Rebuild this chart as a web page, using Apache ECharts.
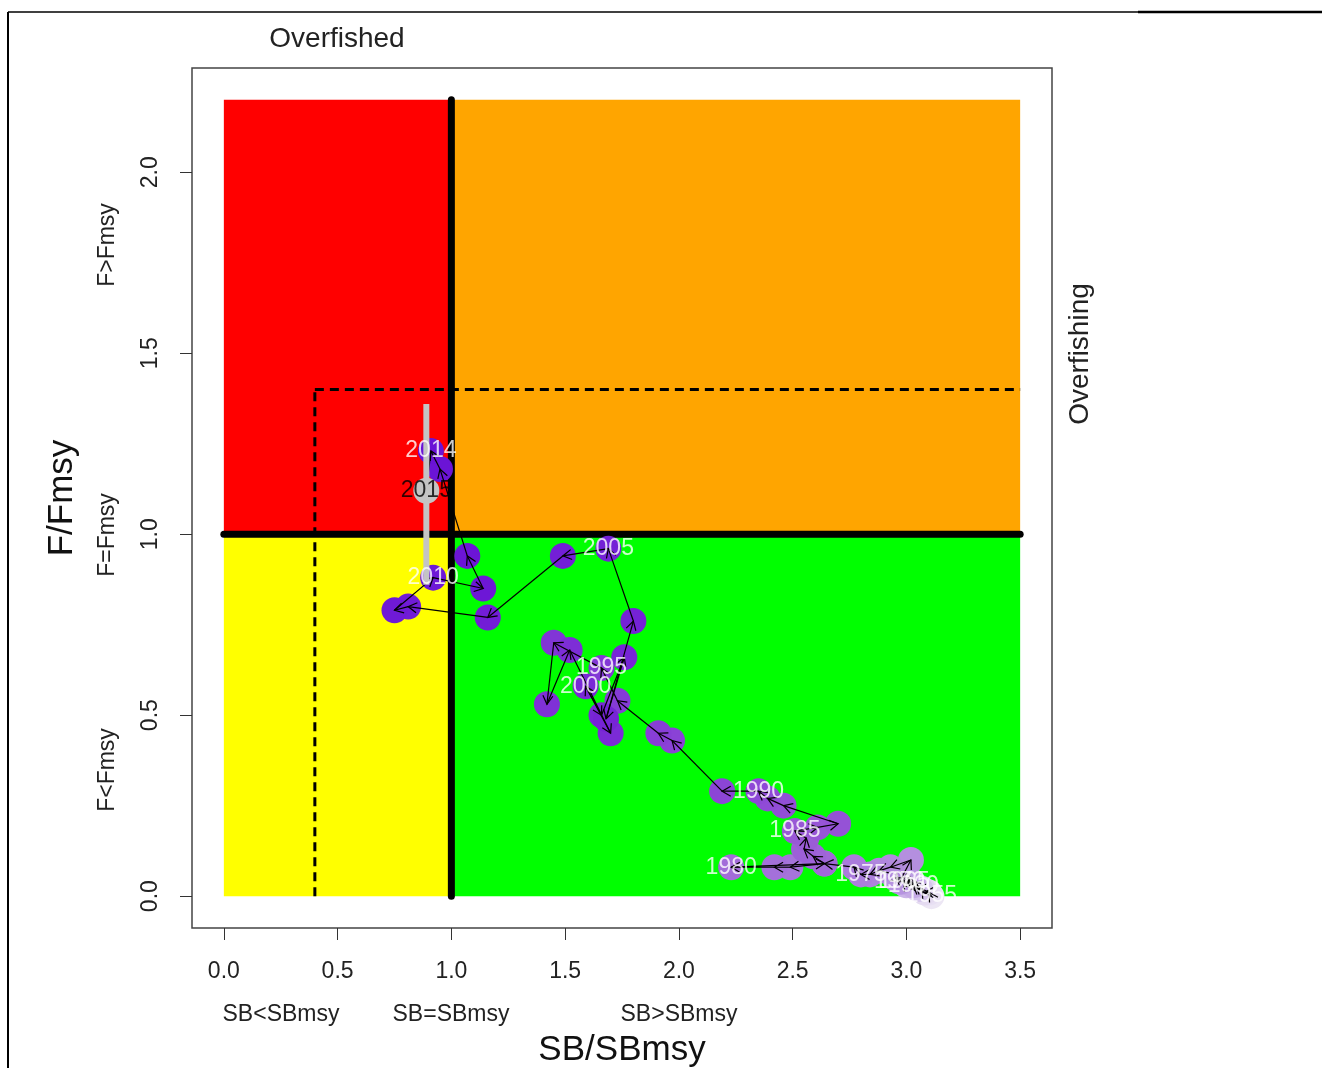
<!DOCTYPE html>
<html>
<head>
<meta charset="utf-8">
<title>Kobe plot</title>
<script src="https://cdn.jsdelivr.net/npm/echarts@6/dist/echarts.min.js"></script>
<style>
  html, body { margin: 0; padding: 0; background: #fff; }
  #chart { width: 1322px; height: 1068px; }
</style>
</head>
<body>
<div id="chart"></div>
<script>
// stock trajectory
var years = [1955, 1956, 1957, 1958, 1959, 1960, 1961, 1962, 1963, 1964,
  1965, 1966, 1967, 1968, 1969, 1970, 1971, 1972, 1973, 1974,
  1975, 1976, 1977, 1978, 1979, 1980, 1981, 1982, 1983, 1984,
  1985, 1986, 1987, 1988, 1989, 1990, 1991, 1992, 1993, 1994,
  1995, 1996, 1997, 1998, 1999, 2000, 2001, 2002, 2003, 2004,
  2005, 2006, 2007, 2008, 2009, 2010, 2011, 2012, 2013, 2014, 2015];
var sbRatio = [3.11, 3.10, 3.08, 3.07, 3.05, 3.03, 3.06, 3.04, 3.02, 3.00,
  2.99, 3.03, 3.01, 2.98, 2.95, 2.97, 3.02, 2.93, 2.88, 2.84,
  2.80, 2.77, 2.64, 2.49, 2.42, 2.23, 2.64, 2.59, 2.55, 2.56,
  2.51, 2.61, 2.70, 2.46, 2.39, 2.35, 2.19, 1.97, 1.91, 1.73,
  1.66, 1.45, 1.42, 1.52, 1.70, 1.59, 1.66, 1.76, 1.68, 1.80,
  1.69, 1.49, 1.16, 0.81, 0.75, 0.92, 1.14, 1.07, 0.95, 0.91, 0.89];
var fRatio = [0.00, 0.01, 0.01, 0.02, 0.02, 0.03, 0.02, 0.03, 0.04, 0.03,
  0.04, 0.03, 0.05, 0.04, 0.05, 0.04, 0.10, 0.08, 0.07, 0.06,
  0.06, 0.08, 0.09, 0.08, 0.08, 0.08, 0.09, 0.11, 0.13, 0.16,
  0.18, 0.19, 0.20, 0.25, 0.27, 0.29, 0.29, 0.43, 0.45, 0.54,
  0.63, 0.70, 0.53, 0.68, 0.45, 0.58, 0.50, 0.66, 0.49, 0.76,
  0.96, 0.94, 0.77, 0.80, 0.79, 0.88, 0.85, 0.94, 1.18, 1.23, 1.12];
var labelYears = [1955, 1960, 1965, 1970, 1975, 1980, 1985, 1990, 1995, 2000, 2005, 2010, 2014, 2015];

// last year uncertainty on F/Fmsy
var lastCI = [0.86, 1.36];

// quadrants [sb0, f0, sb1, f1]
var zoneBounds = [[0, 1, 1, 2.2], [1, 1, 3.5, 2.2], [0, 0, 1, 1], [1, 0, 3.5, 1]];
var zoneColors = ['#ff0000', '#ffa500', '#ffff00', '#00ff00'];

var xTicks = [0, 0.5, 1, 1.5, 2, 2.5, 3, 3.5];
var yTicks = [0, 0.5, 1, 1.5, 2];

var FONT = '"Liberation Sans", Arial, Helvetica, sans-serif';

var n = years.length;
var pts = [];
for (var i = 0; i < n - 1; i++) pts.push([sbRatio[i], fRatio[i], years[i]]);
var segs = [];
for (var i = 0; i < n - 1; i++) segs.push([sbRatio[i], fRatio[i], sbRatio[i + 1], fRatio[i + 1]]);
var labels = [];
for (var i = 0; i < n; i++) {
  if (labelYears.indexOf(years[i]) >= 0) {
    labels.push({
      value: [sbRatio[i], fRatio[i], years[i]],
      label: { color: years[i] === 2015 ? '#000' : '#fff' }
    });
  }
}

var chart = echarts.init(document.getElementById('chart'));
var option = {
  animation: false,
  backgroundColor: '#fff',
  grid: {
    left: 192, top: 68, width: 860, height: 860,
    show: true, borderColor: '#444', borderWidth: 1.5,
    backgroundColor: 'transparent',
    outerBoundsMode: 'none'
  },
  xAxis: {
    type: 'value', min: -0.14, max: 3.64,
    splitLine: { show: false },
    axisLine: { show: false, onZero: false },
    axisTick: { show: true, length: 12, customValues: xTicks, lineStyle: { color: '#333', width: 1 } },
    axisLabel: {
      customValues: xTicks, margin: 32, fontSize: 23, color: '#222', fontFamily: FONT,
      formatter: function (v) { return v.toFixed(1); }
    }
  },
  yAxis: {
    type: 'value', min: -0.088, max: 2.288,
    splitLine: { show: false },
    axisLine: { show: false, onZero: false },
    axisTick: { show: true, length: 12, customValues: yTicks, lineStyle: { color: '#333', width: 1 } },
    axisLabel: {
      customValues: yTicks, margin: 30, rotate: 90, fontSize: 23, color: '#222', fontFamily: FONT,
      formatter: function (v) { return v.toFixed(1); }
    }
  },
  visualMap: {
    show: false, type: 'continuous', seriesIndex: 2, dimension: 2,
    min: 1955, max: 2014,
    inRange: { color: ['#ece6f4', '#b694e0', '#9a5ad6', '#7a2ad6', '#6a12d6'] }
  },
  series: [
    {
      name: 'zones', type: 'custom', z: 1, silent: true,
      data: zoneBounds.map(function (b, k) { return b.concat([k]); }),
      renderItem: function (params, api) {
        var p0 = api.coord([api.value(0), api.value(3)]);
        var p1 = api.coord([api.value(2), api.value(1)]);
        return {
          type: 'rect',
          shape: { x: p0[0], y: p0[1], width: p1[0] - p0[0], height: p1[1] - p0[1] },
          style: { fill: zoneColors[api.value(4)] }
        };
      }
    },
    {
      name: 'refs', type: 'custom', z: 2, silent: true,
      data: [[0]],
      renderItem: function (params, api) {
        var a = api.coord([1, 0]), b = api.coord([1, 2.2]);
        var c = api.coord([0, 1]), d = api.coord([3.5, 1]);
        var e = api.coord([0.4, 0]), f = api.coord([0.4, 1.4]), g = api.coord([3.5, 1.4]);
        var dash = { stroke: '#000', lineWidth: 3, lineDash: [9, 6] };
        return {
          type: 'group',
          children: [
            { type: 'line', shape: { x1: e[0], y1: e[1], x2: f[0], y2: f[1] }, style: dash },
            { type: 'line', shape: { x1: f[0], y1: f[1], x2: g[0], y2: g[1] }, style: dash },
            { type: 'line', shape: { x1: a[0], y1: a[1], x2: b[0], y2: b[1] }, style: { stroke: '#000', lineWidth: 7, lineCap: 'round' } },
            { type: 'line', shape: { x1: c[0], y1: c[1], x2: d[0], y2: d[1] }, style: { stroke: '#000', lineWidth: 7, lineCap: 'round' } }
          ]
        };
      }
    },
    {
      name: 'years', type: 'scatter', z: 3, silent: true,
      symbolSize: 26, itemStyle: { opacity: 1 },
      data: pts
    },
    {
      name: 'arrows', type: 'custom', z: 4, silent: true,
      data: segs,
      renderItem: function (params, api) {
        var a = api.coord([api.value(0), api.value(1)]);
        var b = api.coord([api.value(2), api.value(3)]);
        var ang = Math.atan2(b[1] - a[1], b[0] - a[0]);
        var L = 10, w = Math.PI / 6;
        var h1 = [b[0] - L * Math.cos(ang - w), b[1] - L * Math.sin(ang - w)];
        var h2 = [b[0] - L * Math.cos(ang + w), b[1] - L * Math.sin(ang + w)];
        return {
          type: 'group',
          children: [
            { type: 'line', shape: { x1: a[0], y1: a[1], x2: b[0], y2: b[1] }, style: { stroke: '#000', lineWidth: 1.2 } },
            { type: 'polyline', shape: { points: [h1, b, h2] }, style: { stroke: '#000', lineWidth: 1.2, fill: null } }
          ]
        };
      }
    },
    {
      name: 'ci', type: 'custom', z: 5, silent: true,
      data: [[sbRatio[n - 1], lastCI[0], lastCI[1]]],
      renderItem: function (params, api) {
        var a = api.coord([api.value(0), api.value(1)]);
        var b = api.coord([api.value(0), api.value(2)]);
        return { type: 'line', shape: { x1: a[0], y1: a[1], x2: b[0], y2: b[1] }, style: { stroke: '#c4c4c4', lineWidth: 6 } };
      }
    },
    {
      name: 'last', type: 'scatter', z: 6, silent: true,
      symbolSize: 26, itemStyle: { color: '#c4c4c4', opacity: 1 },
      data: [[sbRatio[n - 1], fRatio[n - 1], years[n - 1]]]
    },
    {
      name: 'labels', type: 'scatter', z: 7, silent: true,
      symbolSize: 1, itemStyle: { color: 'rgba(0,0,0,0)' },
      label: {
        show: true, position: 'inside', fontSize: 23, fontFamily: FONT,
        formatter: function (p) { return String(p.value[2]); }
      },
      data: labels
    }
  ],
  graphic: [
    { type: 'line', shape: { x1: 8, y1: 12, x2: 1138, y2: 12 }, style: { stroke: '#000', lineWidth: 1.5 } },
    { type: 'line', shape: { x1: 1138, y1: 12, x2: 1322, y2: 12 }, style: { stroke: '#000', lineWidth: 2.5 } },
    { type: 'line', shape: { x1: 8, y1: 12, x2: 8, y2: 1068 }, style: { stroke: '#000', lineWidth: 2 } },
    { type: 'text', x: 337, y: 39, style: { text: 'Overfished', font: '28px ' + FONT, fill: '#222', align: 'center', verticalAlign: 'middle' } },
    { type: 'text', x: 1080, y: 354, rotation: Math.PI / 2, style: { text: 'Overfishing', font: '28px ' + FONT, fill: '#222', align: 'center', verticalAlign: 'middle' } },
    { type: 'text', x: 62, y: 498, rotation: Math.PI / 2, style: { text: 'F/Fmsy', font: '35px ' + FONT, fill: '#111', align: 'center', verticalAlign: 'middle' } },
    { type: 'text', x: 108, y: 245, rotation: Math.PI / 2, style: { text: 'F>Fmsy', font: '23px ' + FONT, fill: '#222', align: 'center', verticalAlign: 'middle' } },
    { type: 'text', x: 108, y: 535, rotation: Math.PI / 2, style: { text: 'F=Fmsy', font: '23px ' + FONT, fill: '#222', align: 'center', verticalAlign: 'middle' } },
    { type: 'text', x: 108, y: 770, rotation: Math.PI / 2, style: { text: 'F<Fmsy', font: '23px ' + FONT, fill: '#222', align: 'center', verticalAlign: 'middle' } },
    { type: 'text', x: 281, y: 1015, style: { text: 'SB<SBmsy', font: '23px ' + FONT, fill: '#222', align: 'center', verticalAlign: 'middle' } },
    { type: 'text', x: 451, y: 1015, style: { text: 'SB=SBmsy', font: '23px ' + FONT, fill: '#222', align: 'center', verticalAlign: 'middle' } },
    { type: 'text', x: 679, y: 1015, style: { text: 'SB>SBmsy', font: '23px ' + FONT, fill: '#222', align: 'center', verticalAlign: 'middle' } },
    { type: 'text', x: 622, y: 1050, style: { text: 'SB/SBmsy', font: '35px ' + FONT, fill: '#111', align: 'center', verticalAlign: 'middle' } }
  ]
};
chart.setOption(option);
</script>
</body>
</html>
